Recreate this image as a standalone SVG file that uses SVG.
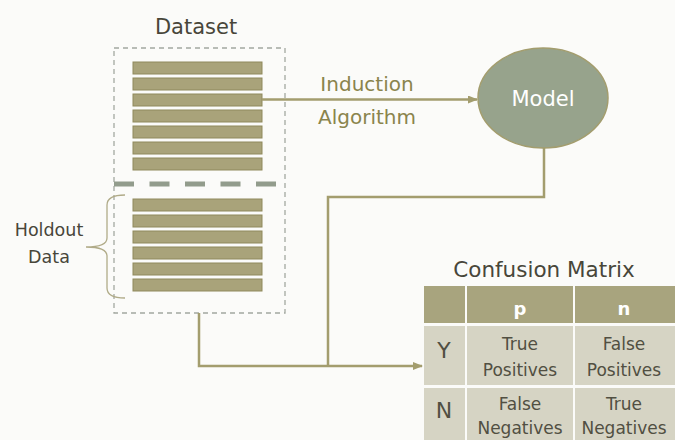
<svg xmlns="http://www.w3.org/2000/svg" width="675" height="440" viewBox="0 0 675 440">
<defs>
<style>
.t{font-family:"DejaVu Sans","Liberation Sans",sans-serif;}
.dark{fill:#48463a;}
.ol{fill:#8a844c;}
.bar{fill:#a9a37a;stroke:#8f895c;stroke-width:1;}
.conn{stroke:#a39d6e;stroke-width:2.5;fill:none;}
.hdr{fill:#a8a47e;}
.cell{fill:#d6d4c4;}
.ct{font-size:17px;fill:#514f42;text-anchor:middle;}
</style>
<marker id="ah" markerWidth="10" markerHeight="8" refX="9" refY="4" orient="auto" markerUnits="userSpaceOnUse">
<path d="M0,0 L10,4 L0,8 Z" fill="#a39d6e"/>
</marker>
</defs>
<rect x="0" y="0" width="675" height="440" fill="#fbfbf9"/>

<g id="dataset">
<text class="t dark" x="196" y="34" font-size="21" text-anchor="middle">Dataset</text>
<rect x="114" y="48" width="171" height="265" fill="none" stroke="#a3a8a0" stroke-width="1.3" stroke-dasharray="5,4"/>
<rect class="bar" x="133" y="62" width="129" height="12"/>
<rect class="bar" x="133" y="78" width="129" height="12"/>
<rect class="bar" x="133" y="94" width="129" height="12"/>
<rect class="bar" x="133" y="110" width="129" height="12"/>
<rect class="bar" x="133" y="126" width="129" height="12"/>
<rect class="bar" x="133" y="142" width="129" height="12"/>
<rect class="bar" x="133" y="158" width="129" height="12"/>
<line x1="114" y1="184" x2="276" y2="184" stroke="#929c8c" stroke-width="5" stroke-dasharray="20,15.5"/>
<rect class="bar" x="133" y="199" width="129" height="12"/>
<rect class="bar" x="133" y="215" width="129" height="12"/>
<rect class="bar" x="133" y="231" width="129" height="12"/>
<rect class="bar" x="133" y="247" width="129" height="12"/>
<rect class="bar" x="133" y="263" width="129" height="12"/>
<rect class="bar" x="133" y="279" width="129" height="12"/>
</g>

<g id="holdout">
<path d="M125,195 Q107,195 107,205 L107,238 Q107,247 86,247 Q107,247 107,256 L107,288 Q107,298 125,298" fill="none" stroke="#b0ab88" stroke-width="1.3"/>
<text class="t dark" x="49" y="236" font-size="17.5" text-anchor="middle">Holdout</text>
<text class="t dark" x="49" y="263" font-size="17.5" text-anchor="middle">Data</text>
</g>

<g id="model">
<ellipse cx="543" cy="98" rx="65" ry="50" fill="#97a38c" stroke="#a39d6e" stroke-width="1.5"/>
<text class="t" x="543" y="106" font-size="21" fill="#ffffff" text-anchor="middle">Model</text>
</g>

<g id="induction">
<text class="t ol" x="367" y="91" font-size="20" font-weight="500" text-anchor="middle">Induction</text>
<text class="t ol" x="367" y="124" font-size="20" font-weight="500" text-anchor="middle">Algorithm</text>
</g>

<g id="connectors">
<line class="conn" x1="262" y1="99.5" x2="477" y2="99.5" marker-end="url(#ah)"/>
<polyline class="conn" points="544,148 544,197 328,197 328,366"/>
<polyline class="conn" points="199,313 199,366 422,366" marker-end="url(#ah)"/>
</g>

<g id="confusion-matrix">
<text class="t dark" x="544" y="277" font-size="21.5" text-anchor="middle">Confusion Matrix</text>
<rect class="hdr" x="424" y="286" width="41" height="37"/>
<rect class="hdr" x="467" y="286" width="106" height="37"/>
<rect class="hdr" x="575" y="286" width="100" height="37"/>
<rect class="cell" x="424" y="326" width="41" height="59"/>
<rect class="cell" x="467" y="326" width="106" height="59"/>
<rect class="cell" x="575" y="326" width="100" height="59"/>
<rect class="cell" x="424" y="388" width="41" height="52"/>
<rect class="cell" x="467" y="388" width="106" height="52"/>
<rect class="cell" x="575" y="388" width="100" height="52"/>
<text class="t" x="520" y="315" font-size="18" font-weight="bold" fill="#ffffff" text-anchor="middle">p</text>
<text class="t" x="624" y="315" font-size="18" font-weight="bold" fill="#ffffff" text-anchor="middle">n</text>
<text class="t" x="444" y="358" font-size="22" fill="#514f42" text-anchor="middle">Y</text>
<text class="t" x="444" y="418" font-size="22" fill="#514f42" text-anchor="middle">N</text>
<text class="t ct" x="520" y="350">True</text>
<text class="t ct" x="520" y="376">Positives</text>
<text class="t ct" x="624" y="350">False</text>
<text class="t ct" x="624" y="376">Positives</text>
<text class="t ct" x="520" y="410">False</text>
<text class="t ct" x="520" y="434">Negatives</text>
<text class="t ct" x="624" y="410">True</text>
<text class="t ct" x="624" y="434">Negatives</text>
</g>
</svg>
